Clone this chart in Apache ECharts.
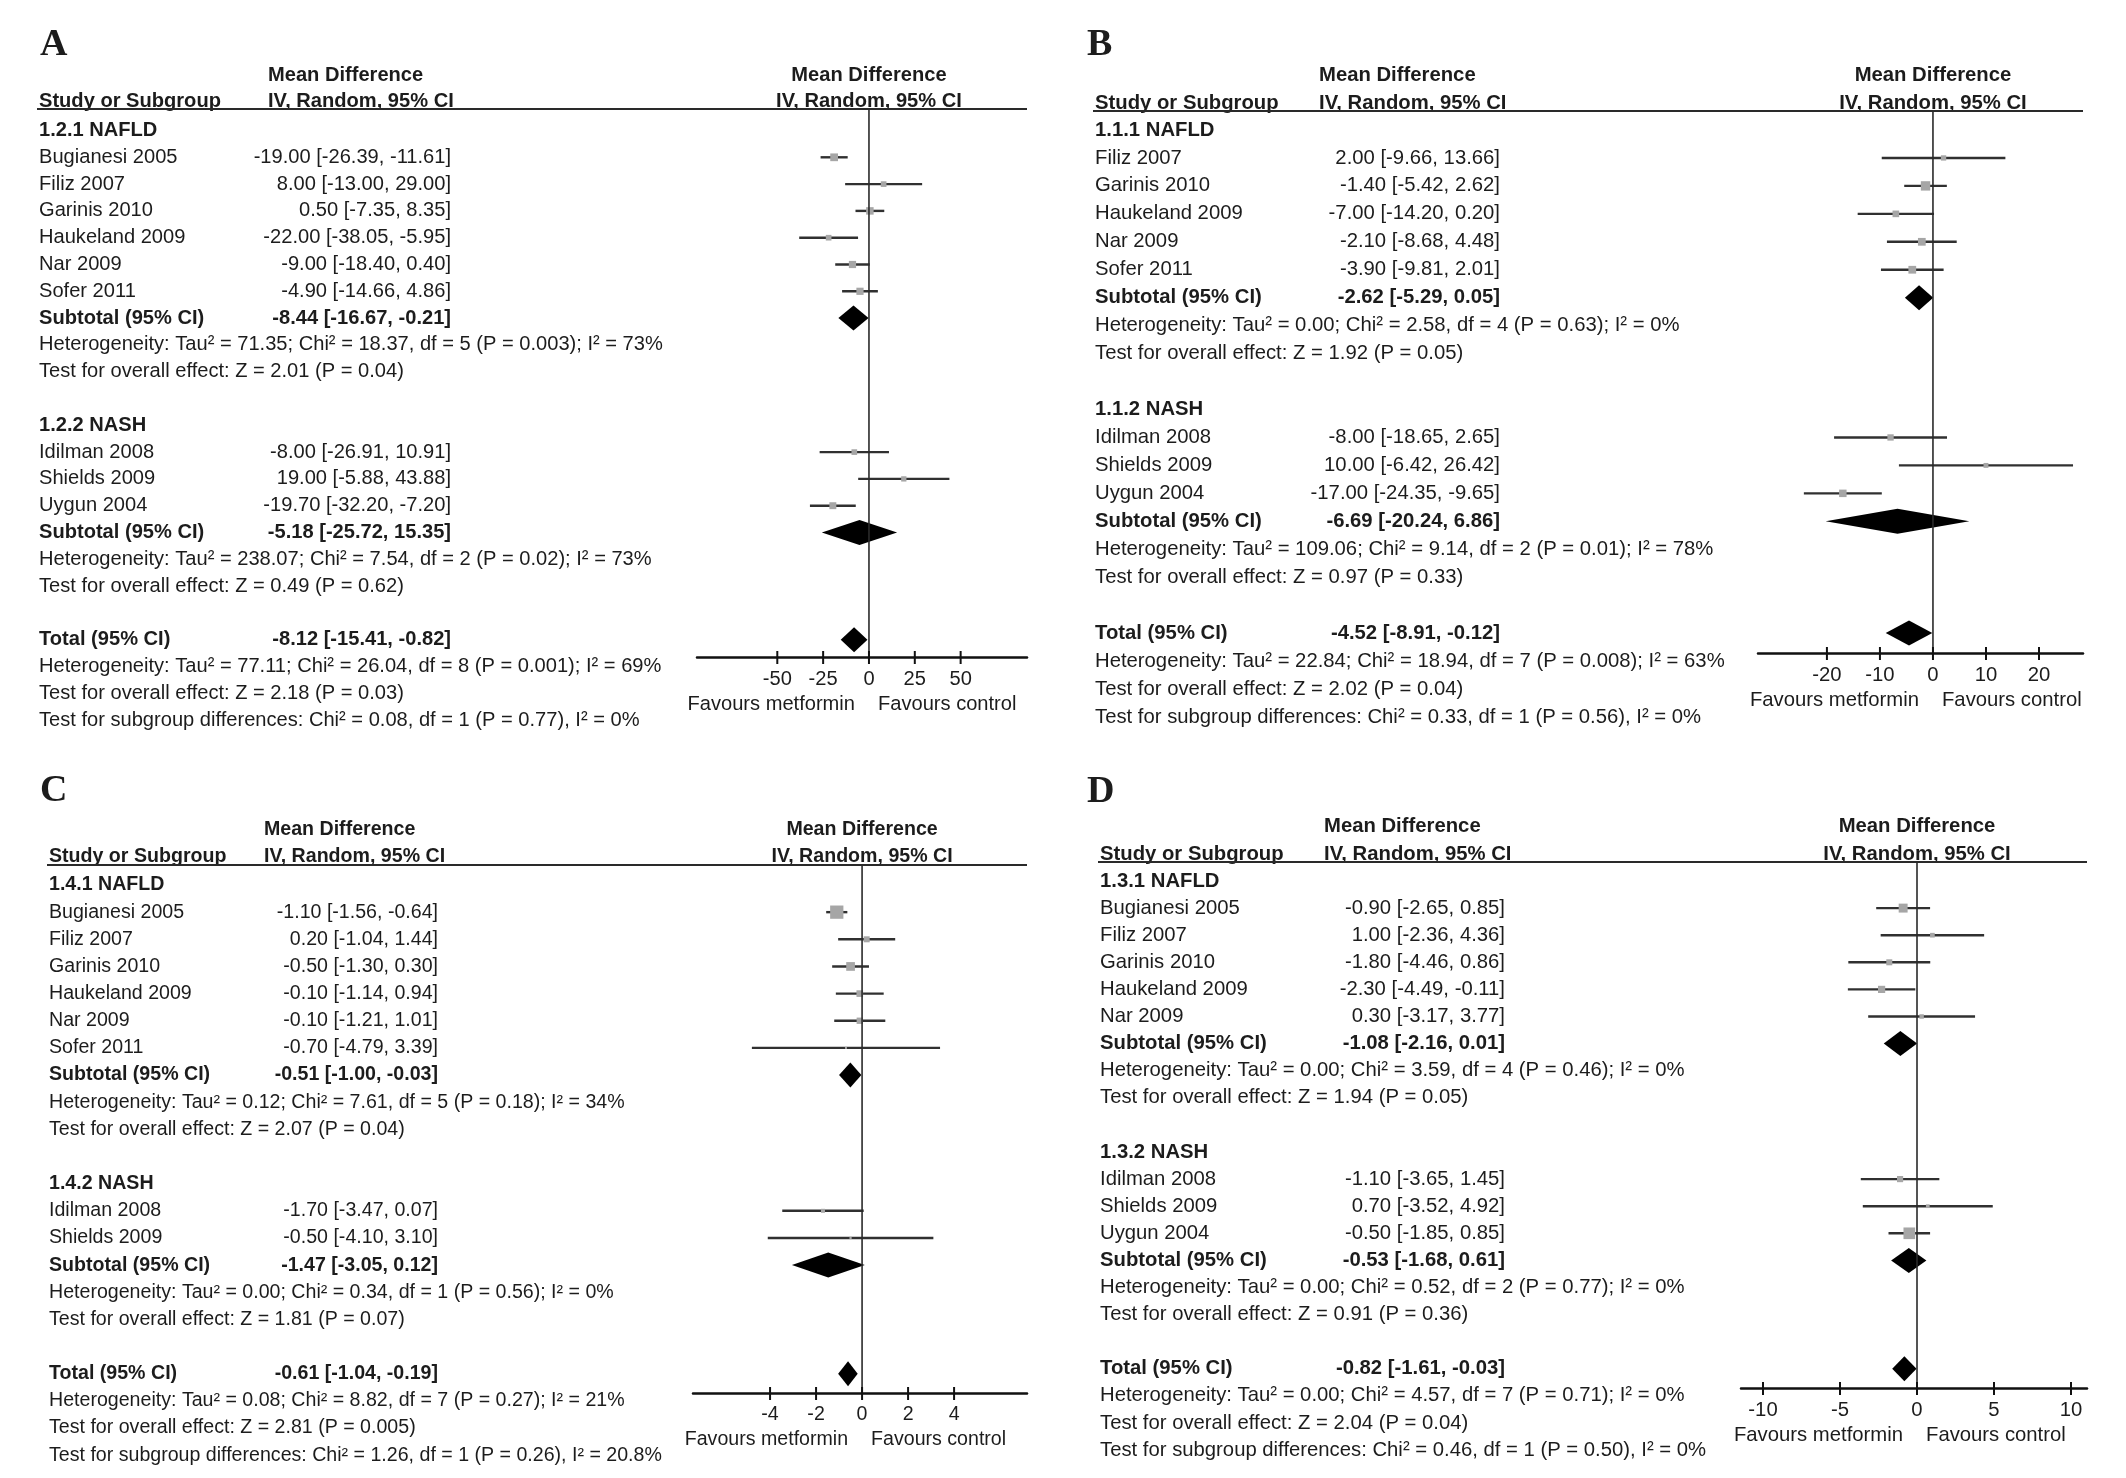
<!DOCTYPE html>
<html>
<head>
<meta charset="utf-8">
<script src="https://cdn.jsdelivr.net/npm/echarts@6/dist/echarts.min.js"></script>
<style>
html,body{margin:0;padding:0;background:#ffffff;}
#chart{width:2126px;height:1478px;}
</style>
</head>
<body>
<div id="chart"></div>
<script>
// ================= DATA =================
// ---- Panel A ----
const A_subgroups = ['1.2.1 NAFLD', '1.2.2 NASH'];
const A_studies = ['Bugianesi 2005', 'Filiz 2007', 'Garinis 2010', 'Haukeland 2009', 'Nar 2009', 'Sofer 2011', 'Idilman 2008', 'Shields 2009', 'Uygun 2004'];
const A_group = [0, 0, 0, 0, 0, 0, 1, 1, 1];
const A_md = [-19.00, 8.00, 0.50, -22.00, -9.00, -4.90, -8.00, 19.00, -19.70];
const A_lo = [-26.39, -13.00, -7.35, -38.05, -18.40, -14.66, -26.91, -5.88, -32.20];
const A_hi = [-11.61, 29.00, 8.35, -5.95, 0.40, 4.86, 10.91, 43.88, -7.20];
const A_wt = [15, 8, 14, 8, 13, 13, 8, 7, 12];
const A_sub_md = [-8.44, -5.18];
const A_sub_lo = [-16.67, -25.72];
const A_sub_hi = [-0.21, 15.35];
const A_sub_het = ['Heterogeneity: Tau\u00b2 = 71.35; Chi\u00b2 = 18.37, df = 5 (P = 0.003); I\u00b2 = 73%', 'Heterogeneity: Tau\u00b2 = 238.07; Chi\u00b2 = 7.54, df = 2 (P = 0.02); I\u00b2 = 73%'];
const A_sub_test = ['Test for overall effect: Z = 2.01 (P = 0.04)', 'Test for overall effect: Z = 0.49 (P = 0.62)'];
const A_total = [-8.12, -15.41, -0.82];
const A_total_notes = ['Heterogeneity: Tau\u00b2 = 77.11; Chi\u00b2 = 26.04, df = 8 (P = 0.001); I\u00b2 = 69%', 'Test for overall effect: Z = 2.18 (P = 0.03)', 'Test for subgroup differences: Chi\u00b2 = 0.08, df = 1 (P = 0.77), I\u00b2 = 0%'];
const A_ticks = [-50, -25, 0, 25, 50];

// ---- Panel B ----
const B_subgroups = ['1.1.1 NAFLD', '1.1.2 NASH'];
const B_studies = ['Filiz 2007', 'Garinis 2010', 'Haukeland 2009', 'Nar 2009', 'Sofer 2011', 'Idilman 2008', 'Shields 2009', 'Uygun 2004'];
const B_group = [0, 0, 0, 0, 0, 1, 1, 1];
const B_md = [2.00, -1.40, -7.00, -2.10, -3.90, -8.00, 10.00, -17.00];
const B_lo = [-9.66, -5.42, -14.20, -8.68, -9.81, -18.65, -6.42, -24.35];
const B_hi = [13.66, 2.62, 0.20, 4.48, 2.01, 2.65, 26.42, -9.65];
const B_wt = [7, 22, 11, 15, 15, 10, 6, 14];
const B_sub_md = [-2.62, -6.69];
const B_sub_lo = [-5.29, -20.24];
const B_sub_hi = [0.05, 6.86];
const B_sub_het = ['Heterogeneity: Tau\u00b2 = 0.00; Chi\u00b2 = 2.58, df = 4 (P = 0.63); I\u00b2 = 0%', 'Heterogeneity: Tau\u00b2 = 109.06; Chi\u00b2 = 9.14, df = 2 (P = 0.01); I\u00b2 = 78%'];
const B_sub_test = ['Test for overall effect: Z = 1.92 (P = 0.05)', 'Test for overall effect: Z = 0.97 (P = 0.33)'];
const B_total = [-4.52, -8.91, -0.12];
const B_total_notes = ['Heterogeneity: Tau\u00b2 = 22.84; Chi\u00b2 = 18.94, df = 7 (P = 0.008); I\u00b2 = 63%', 'Test for overall effect: Z = 2.02 (P = 0.04)', 'Test for subgroup differences: Chi\u00b2 = 0.33, df = 1 (P = 0.56), I\u00b2 = 0%'];
const B_ticks = [-20, -10, 0, 10, 20];

// ---- Panel C ----
const C_subgroups = ['1.4.1 NAFLD', '1.4.2 NASH'];
const C_studies = ['Bugianesi 2005', 'Filiz 2007', 'Garinis 2010', 'Haukeland 2009', 'Nar 2009', 'Sofer 2011', 'Idilman 2008', 'Shields 2009'];
const C_group = [0, 0, 0, 0, 0, 0, 1, 1];
const C_md = [-1.10, 0.20, -0.50, -0.10, -0.10, -0.70, -1.70, -0.50];
const C_lo = [-1.56, -1.04, -1.30, -1.14, -1.21, -4.79, -3.47, -4.10];
const C_hi = [-0.64, 1.44, 0.30, 0.94, 1.01, 3.39, 0.07, 3.10];
const C_wt = [44, 9, 19, 11, 10, 1, 4, 1.2];
const C_sub_md = [-0.51, -1.47];
const C_sub_lo = [-1.00, -3.05];
const C_sub_hi = [-0.03, 0.12];
const C_sub_het = ['Heterogeneity: Tau\u00b2 = 0.12; Chi\u00b2 = 7.61, df = 5 (P = 0.18); I\u00b2 = 34%', 'Heterogeneity: Tau\u00b2 = 0.00; Chi\u00b2 = 0.34, df = 1 (P = 0.56); I\u00b2 = 0%'];
const C_sub_test = ['Test for overall effect: Z = 2.07 (P = 0.04)', 'Test for overall effect: Z = 1.81 (P = 0.07)'];
const C_total = [-0.61, -1.04, -0.19];
const C_total_notes = ['Heterogeneity: Tau\u00b2 = 0.08; Chi\u00b2 = 8.82, df = 7 (P = 0.27); I\u00b2 = 21%', 'Test for overall effect: Z = 2.81 (P = 0.005)', 'Test for subgroup differences: Chi\u00b2 = 1.26, df = 1 (P = 0.26), I\u00b2 = 20.8%'];
const C_ticks = [-4, -2, 0, 2, 4];

// ---- Panel D ----
const D_subgroups = ['1.3.1 NAFLD', '1.3.2 NASH'];
const D_studies = ['Bugianesi 2005', 'Filiz 2007', 'Garinis 2010', 'Haukeland 2009', 'Nar 2009', 'Idilman 2008', 'Shields 2009', 'Uygun 2004'];
const D_group = [0, 0, 0, 0, 0, 1, 1, 1];
const D_md = [-0.90, 1.00, -1.80, -2.30, 0.30, -1.10, 0.70, -0.50];
const D_lo = [-2.65, -2.36, -4.46, -4.49, -3.17, -3.65, -3.52, -1.85];
const D_hi = [0.85, 4.36, 0.86, -0.11, 3.77, 1.45, 4.92, 0.85];
const D_wt = [20, 5.5, 9, 13, 5, 9.5, 3.5, 34];
const D_sub_md = [-1.08, -0.53];
const D_sub_lo = [-2.16, -1.68];
const D_sub_hi = [0.01, 0.61];
const D_sub_het = ['Heterogeneity: Tau\u00b2 = 0.00; Chi\u00b2 = 3.59, df = 4 (P = 0.46); I\u00b2 = 0%', 'Heterogeneity: Tau\u00b2 = 0.00; Chi\u00b2 = 0.52, df = 2 (P = 0.77); I\u00b2 = 0%'];
const D_sub_test = ['Test for overall effect: Z = 1.94 (P = 0.05)', 'Test for overall effect: Z = 0.91 (P = 0.36)'];
const D_total = [-0.82, -1.61, -0.03];
const D_total_notes = ['Heterogeneity: Tau\u00b2 = 0.00; Chi\u00b2 = 4.57, df = 7 (P = 0.71); I\u00b2 = 0%', 'Test for overall effect: Z = 2.04 (P = 0.04)', 'Test for subgroup differences: Chi\u00b2 = 0.46, df = 1 (P = 0.50), I\u00b2 = 0%'];
const D_ticks = [-10, -5, 0, 5, 10];

// ================= LAYOUT (pixels) =================
const LAYOUT = {
  A: {letter: 'A', letterX: 40, letterY: 45, studyX: 39, estX: 451, hdrX: 268, row0: 130.5, sp: 26.8, lineY: 109, axisY: 657, axisL: 697, axisR: 1027, min: -93.8, max: 86.2, fs: 20.1},
  B: {letter: 'B', letterX: 1087, letterY: 45, studyX: 1095, estX: 1500, hdrX: 1319, row0: 130, sp: 27.95, lineY: 111, axisY: 653, axisL: 1758, axisR: 2083, min: -33.0, max: 28.3, fs: 20.3},
  C: {letter: 'C', letterX: 40, letterY: 791, studyX: 49, estX: 438, hdrX: 264, row0: 885, sp: 27.15, lineY: 865, axisY: 1393, axisL: 693, axisR: 1027, min: -7.35, max: 7.17, fs: 19.6},
  D: {letter: 'D', letterX: 1087, letterY: 792, studyX: 1100, estX: 1505, hdrX: 1324, row0: 881, sp: 27.1, lineY: 862, axisY: 1388, axisL: 1741, axisR: 2087, min: -11.43, max: 11.04, fs: 20.3}
};

const FONT = '"Liberation Sans", Arial, Helvetica, sans-serif';
const TXT = '#1c1c1c';

function fmt(md, lo, hi) {
  return md.toFixed(2) + ' [' + lo.toFixed(2) + ', ' + hi.toFixed(2) + ']';
}

function buildRows(d) {
  const rows = [];
  let r = 0;
  d.subgroups.forEach(function (name, g) {
    rows.push({row: r++, type: 'group', text: name});
    d.studies.forEach(function (s, i) {
      if (d.group[i] !== g) return;
      rows.push({row: r++, type: 'study', text: s, md: d.md[i], lo: d.lo[i], hi: d.hi[i], wt: d.wt[i]});
    });
    rows.push({row: r++, type: 'pooled', text: 'Subtotal (95% CI)', md: d.sub_md[g], lo: d.sub_lo[g], hi: d.sub_hi[g]});
    rows.push({row: r++, type: 'note', text: d.sub_het[g]});
    rows.push({row: r++, type: 'note', text: d.sub_test[g]});
    r++;
  });
  rows.push({row: r++, type: 'pooled', text: 'Total (95% CI)', md: d.total[0], lo: d.total[1], hi: d.total[2]});
  d.total_notes.forEach(function (t) { rows.push({row: r++, type: 'note', text: t}); });
  rows.push({row: 0, type: 'frame'});
  return rows;
}

const PANELS = [
  {key: 'A', subgroups: A_subgroups, studies: A_studies, group: A_group, md: A_md, lo: A_lo, hi: A_hi, wt: A_wt, sub_md: A_sub_md, sub_lo: A_sub_lo, sub_hi: A_sub_hi, sub_het: A_sub_het, sub_test: A_sub_test, total: A_total, total_notes: A_total_notes, ticks: A_ticks},
  {key: 'B', subgroups: B_subgroups, studies: B_studies, group: B_group, md: B_md, lo: B_lo, hi: B_hi, wt: B_wt, sub_md: B_sub_md, sub_lo: B_sub_lo, sub_hi: B_sub_hi, sub_het: B_sub_het, sub_test: B_sub_test, total: B_total, total_notes: B_total_notes, ticks: B_ticks},
  {key: 'C', subgroups: C_subgroups, studies: C_studies, group: C_group, md: C_md, lo: C_lo, hi: C_hi, wt: C_wt, sub_md: C_sub_md, sub_lo: C_sub_lo, sub_hi: C_sub_hi, sub_het: C_sub_het, sub_test: C_sub_test, total: C_total, total_notes: C_total_notes, ticks: C_ticks},
  {key: 'D', subgroups: D_subgroups, studies: D_studies, group: D_group, md: D_md, lo: D_lo, hi: D_hi, wt: D_wt, sub_md: D_sub_md, sub_lo: D_sub_lo, sub_hi: D_sub_hi, sub_het: D_sub_het, sub_test: D_sub_test, total: D_total, total_notes: D_total_notes, ticks: D_ticks}
];

function txt(x, y, text, align, bold, size, family) {
  return {
    type: 'text',
    style: {
      x: x, y: y, text: text,
      fill: TXT,
      align: align, verticalAlign: 'middle',
      font: (bold ? 'bold ' : '') + size + 'px ' + (family || FONT)
    }
  };
}

function makeRender(P, L, rows) {
  const yMin = (L.lineY - L.row0) / L.sp;
  const yMax = (L.axisY - L.row0) / L.sp;
  const fs = L.fs;
  return function (params, api) {
    const r = rows[api.value(2)];
    const kids = [];
    if (r.type === 'frame') {
      const top = api.coord([0, yMin]);
      const bot = api.coord([0, yMax]);
      const y0 = api.coord([0, 0])[1];
      const zx = top[0];
      // panel letter
      kids.push(txt(L.letterX, L.letterY, L.letter, 'left', true, 38, '"Liberation Serif", "Times New Roman", serif'));
      // column headers
      kids.push(txt(L.hdrX, y0 - 55, 'Mean Difference', 'left', true, fs));
      kids.push(txt(L.hdrX, top[1] - 8, 'IV, Random, 95% CI', 'left', true, fs));
      kids.push(txt(L.studyX, top[1] - 8, 'Study or Subgroup', 'left', true, fs));
      kids.push(txt(zx, y0 - 55, 'Mean Difference', 'center', true, fs));
      kids.push(txt(zx, top[1] - 8, 'IV, Random, 95% CI', 'center', true, fs));
      // header rule
      kids.push({type: 'line', shape: {x1: L.studyX - 2, y1: top[1], x2: api.coord([L.max, yMin])[0], y2: top[1]}, style: {stroke: '#2a2a2a', lineWidth: 2}});
      // line of no effect
      kids.push({type: 'line', shape: {x1: zx, y1: top[1], x2: zx, y2: bot[1]}, style: {stroke: '#2a2a2a', lineWidth: 1.6}});
      // ticks crossing the axis
      P.ticks.forEach(function (t) {
        const p = api.coord([t, yMax]);
        kids.push({type: 'line', shape: {x1: p[0], y1: p[1] - 6, x2: p[0], y2: p[1] + 7}, style: {stroke: '#111', lineWidth: 2}});
      });
      // favours labels
      kids.push(txt(zx - 14, bot[1] + 47, 'Favours metformin', 'right', false, fs));
      kids.push(txt(zx + 9, bot[1] + 47, 'Favours control', 'left', false, fs));
      return {type: 'group', children: kids};
    }
    const y = api.coord([0, r.row])[1];
    if (r.type === 'group') {
      kids.push(txt(L.studyX, y, r.text, 'left', true, fs));
    } else if (r.type === 'note') {
      kids.push(txt(L.studyX, y, r.text, 'left', false, fs));
    } else if (r.type === 'study') {
      kids.push(txt(L.studyX, y, r.text, 'left', false, fs));
      kids.push(txt(L.estX, y, fmt(r.md, r.lo, r.hi), 'right', false, fs));
      const a = api.coord([r.lo, r.row]);
      const b = api.coord([r.hi, r.row]);
      const c = api.coord([r.md, r.row]);
      kids.push({type: 'line', shape: {x1: a[0], y1: a[1], x2: b[0], y2: b[1]}, style: {stroke: '#303030', lineWidth: 2.4}});
      const s = 2 * Math.sqrt(r.wt);
      kids.push({type: 'rect', shape: {x: c[0] - s / 2, y: c[1] - s / 2, width: s, height: s}, style: {fill: '#a6a6a6'}});
    } else if (r.type === 'pooled') {
      kids.push(txt(L.studyX, y, r.text, 'left', true, fs));
      kids.push(txt(L.estX, y, fmt(r.md, r.lo, r.hi), 'right', true, fs));
      const a = api.coord([r.lo, r.row]);
      const b = api.coord([r.hi, r.row]);
      const c = api.coord([r.md, r.row]);
      const h = 12.5;
      kids.push({type: 'polygon', shape: {points: [[a[0], y], [c[0], y - h], [b[0], y], [c[0], y + h]]}, style: {fill: '#000'}});
    }
    return {type: 'group', children: kids};
  };
}

const grids = [], xAxes = [], yAxes = [], series = [];
PANELS.forEach(function (P, i) {
  const L = LAYOUT[P.key];
  const rows = buildRows(P);
  grids.push({left: L.axisL, top: L.lineY, width: L.axisR - L.axisL, height: L.axisY - L.lineY, containLabel: false});
  xAxes.push({
    type: 'value', gridIndex: i, min: L.min, max: L.max,
    splitLine: {show: false},
    axisTick: {show: false},
    axisLine: {show: true, onZero: false, lineStyle: {color: '#111', width: 2.5}},
    axisLabel: {show: true, customValues: P.ticks, margin: 12, fontSize: L.fs, fontFamily: FONT, color: TXT, formatter: function (v) { return String(v); }}
  });
  yAxes.push({
    type: 'value', gridIndex: i, inverse: true,
    min: (L.lineY - L.row0) / L.sp, max: (L.axisY - L.row0) / L.sp,
    show: false, splitLine: {show: false}
  });
  series.push({
    type: 'custom', xAxisIndex: i, yAxisIndex: i, clip: false, silent: true,
    renderItem: makeRender(P, L, rows),
    encode: {x: 0, y: 1},
    data: rows.map(function (r, k) { return [r.md !== undefined ? r.md : 0, r.row, k]; })
  });
});

const chart = echarts.init(document.getElementById('chart'), null, {renderer: 'canvas'});
chart.setOption({
  backgroundColor: '#ffffff',
  animation: false,
  grid: grids,
  xAxis: xAxes,
  yAxis: yAxes,
  series: series
});
</script>
</body>
</html>
